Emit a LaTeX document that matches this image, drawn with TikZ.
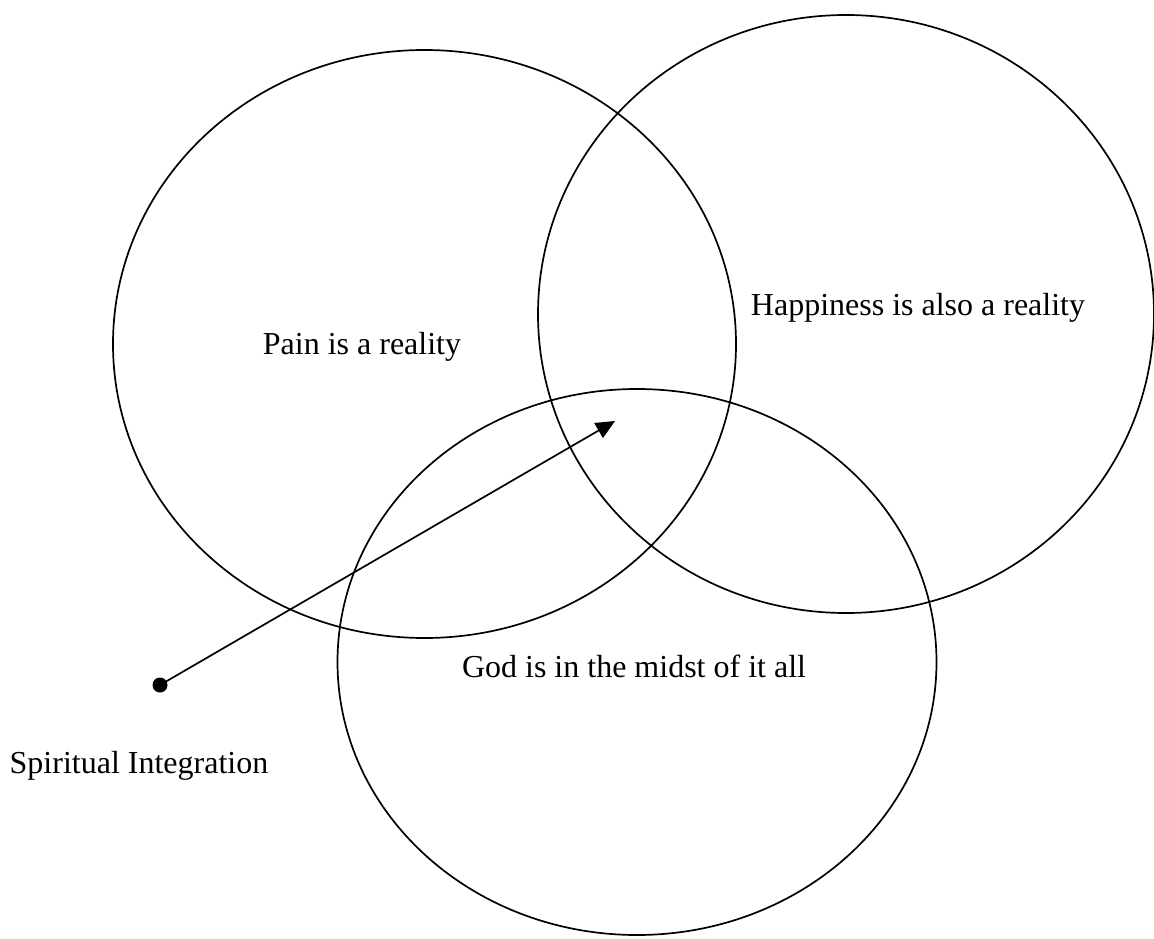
\documentclass[tikz,border=0pt]{standalone}
\usepackage{fontspec}
\setmainfont{Liberation Serif}
\usetikzlibrary{shapes.geometric,arrows.meta}
\begin{document}
\begin{tikzpicture}[x=1pt,y=-1pt,
  ring/.style={draw,ellipse,line width=1.7pt,inner sep=0pt},
  lbl/.style={inner sep=0pt,font=\fontsize{32}{37}\selectfont},
  dotnode/.style={circle,fill=black,inner sep=0pt,minimum size=15pt}]
\useasboundingbox (0,0) rectangle (1154,939);
\node[ring,minimum width=623pt,minimum height=588pt] (left) at (424.5,344) {};
\node[ring,minimum width=616pt,minimum height=598pt] (right) at (846,314) {};
\node[ring,minimum width=599pt,minimum height=546pt] (bottom) at (637,662) {};
\node[lbl] (pain) at (362,347) {Pain is a reality};
\node[lbl] (happy) at (918,308) {Happiness is also a reality};
\node[lbl] (god) at (634,666) {God is in the midst of it all};
\node[lbl] (spirit) at (139,766) {Spiritual Integration};
\node[dotnode] (dot) at (160,685) {};
\coordinate (tip) at (615,421);
\draw[line width=1.7pt,-{Triangle[length=19pt,width=17pt]}] (dot.center) -- (tip);
\end{tikzpicture}
\end{document}
